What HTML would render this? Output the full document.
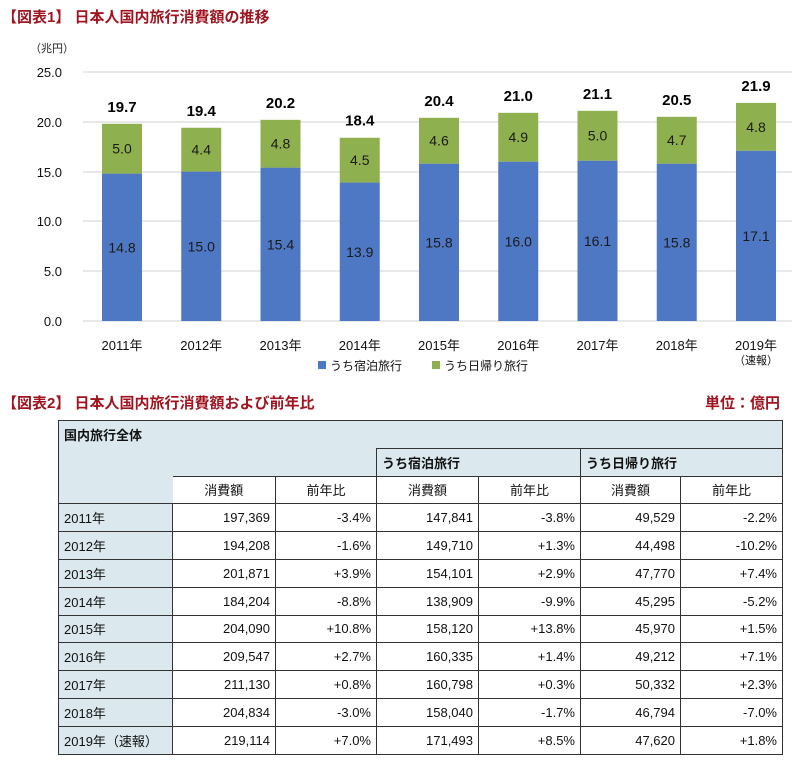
<!DOCTYPE html>
<html><head><meta charset="utf-8"><style>
body{margin:0;background:#fff;width:800px;height:760px;position:relative;font-family:"Liberation Sans","Noto Sans CJK JP",sans-serif;overflow:hidden}
.t{position:absolute;color:#a01420;font-weight:bold;font-size:15px}
table{position:absolute;left:58px;top:420px;border-collapse:collapse;font-size:13px;color:#111;table-layout:fixed}
td{border:1px solid #333;padding:0 5px;height:26.8px;text-align:right;vertical-align:middle}
.h{background:#dbe9ef}
.c{text-align:center}
.l{text-align:left;background:#dbe9ef}
.b{font-weight:bold;text-align:left}
</style></head><body>
<div class="t" style="left:2px;top:6px">【図表1】 日本人国内旅行消費額の推移</div>
<svg width="800" height="400" style="position:absolute;left:0;top:0" font-family="Liberation Sans,Noto Sans CJK JP,sans-serif">
<text x="30" y="52" font-size="11" fill="#222">（兆円）</text>
<g stroke="#d0d0d0" stroke-width="1">
<line x1="83" x2="792" y1="72" y2="72"/><line x1="83" x2="792" y1="122" y2="122"/><line x1="83" x2="792" y1="172" y2="172"/><line x1="83" x2="792" y1="221" y2="221"/><line x1="83" x2="792" y1="271" y2="271"/><line x1="83" x2="792" y1="321" y2="321"/>
</g>
<g font-size="13" fill="#111" text-anchor="end">
<text x="62" y="77">25.0</text><text x="62" y="127">20.0</text><text x="62" y="177">15.0</text><text x="62" y="226">10.0</text><text x="62" y="276">5.0</text><text x="62" y="326">0.0</text>
</g>
<g id="bars" font-size="14" text-anchor="middle"></g>
<rect x="318" y="361" width="8" height="8" fill="#4f78c4"/><text x="330" y="370" font-size="12" fill="#111">うち宿泊旅行</text>
<rect x="432" y="361" width="8" height="8" fill="#8fb04e"/><text x="444" y="370" font-size="12" fill="#111">うち日帰り旅行</text>
</svg>
<script>
var d=[[14.8,5.0,19.7],[15.0,4.4,19.4],[15.4,4.8,20.2],[13.9,4.5,18.4],[15.8,4.6,20.4],[16.0,4.9,21.0],[16.1,5.0,21.1],[15.8,4.7,20.5],[17.1,4.8,21.9]];
var s='',k=9.96;
d.forEach(function(v,i){var cx=122+79.25*i,x=cx-20,y1=321-v[0]*k,y2=y1-v[1]*k;
s+='<rect x="'+x+'" y="'+y1+'" width="40" height="'+(v[0]*k)+'" fill="#4f78c4"/>';
s+='<rect x="'+x+'" y="'+y2+'" width="40" height="'+(v[1]*k)+'" fill="#8fb04e"/>';
s+='<text x="'+cx+'" y="'+((321+y1)/2+5)+'" fill="#1a1a1a">'+v[0].toFixed(1)+'</text>';
s+='<text x="'+cx+'" y="'+((y1+y2)/2+5)+'" fill="#1a1a1a">'+v[1].toFixed(1)+'</text>';
s+='<text x="'+cx+'" y="'+(y2-12)+'" font-size="15" font-weight="bold" fill="#000">'+v[2].toFixed(1)+'</text>';
s+='<text x="'+cx+'" y="350" font-size="13" fill="#111">'+(2011+i)+'年</text>';});
s+='<text x="756" y="364" font-size="11" fill="#111">（速報）</text>';
document.getElementById('bars').innerHTML=s;
</script>
<div class="t" style="left:2px;top:392px">【図表2】 日本人国内旅行消費額および前年比</div>
<div class="t" style="right:20px;top:392px">単位：億円</div>
<table id="tb">
<colgroup><col style="width:114px"><col style="width:103px"><col style="width:101px"><col style="width:102px"><col style="width:102px"><col style="width:100px"><col style="width:102px"></colgroup>
<tr><td colspan="7" class="h b">国内旅行全体</td></tr>
<tr><td rowspan="2" class="h" style="border-top:hidden;border-right:hidden"></td><td colspan="2" class="h" style="border-top:hidden;border-left:hidden"></td><td colspan="2" class="h b">うち宿泊旅行</td><td colspan="2" class="h b">うち日帰り旅行</td></tr>
<tr><td class="c">消費額</td><td class="c">前年比</td><td class="c">消費額</td><td class="c">前年比</td><td class="c">消費額</td><td class="c">前年比</td></tr>
</table>
<script>
var r=[["2011年","197,369","-3.4%","147,841","-3.8%","49,529","-2.2%"],["2012年","194,208","-1.6%","149,710","+1.3%","44,498","-10.2%"],["2013年","201,871","+3.9%","154,101","+2.9%","47,770","+7.4%"],["2014年","184,204","-8.8%","138,909","-9.9%","45,295","-5.2%"],["2015年","204,090","+10.8%","158,120","+13.8%","45,970","+1.5%"],["2016年","209,547","+2.7%","160,335","+1.4%","49,212","+7.1%"],["2017年","211,130","+0.8%","160,798","+0.3%","50,332","+2.3%"],["2018年","204,834","-3.0%","158,040","-1.7%","46,794","-7.0%"],["2019年（速報）","219,114","+7.0%","171,493","+8.5%","47,620","+1.8%"]];
var t=document.getElementById('tb');
r.forEach(function(a){var tr=t.insertRow();a.forEach(function(x,j){var td=tr.insertCell();td.textContent=x;if(j==0)td.className='l';});});
</script>
</body></html>
